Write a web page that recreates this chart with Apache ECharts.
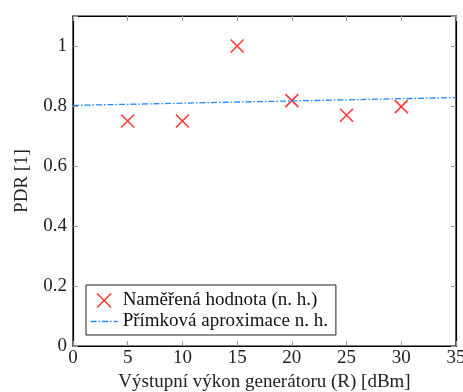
<!DOCTYPE html>
<html><head><meta charset="utf-8">
<script src="https://cdn.jsdelivr.net/npm/echarts@6/dist/echarts.min.js"></script>
<style>html,body{margin:0;padding:0;background:#fff}#c{width:463px;height:392px}</style>
</head><body><div id="c"></div>
<script>
const measuredX = [5, 10, 15, 20, 25, 30];
const measuredY = [0.75, 0.75, 1.0, 0.818, 0.769, 0.798];
const fitX = [0, 35];
const fitY = [0.802, 0.828];
const seriesNames = ['Naměřená hodnota (n. h.)', 'Přímková aproximace n. h.'];
const xTitle = 'Výstupní výkon generátoru (R) [dBm]';
const yTitle = 'PDR [1]';

const font = 'Liberation Serif';
const fs = 19;
const crossPath = 'path://M0,0L10,10M10,0L0,10';
const chart = echarts.init(document.getElementById('c'), null, {renderer: 'canvas'});
const tickStyle = {show: true, inside: true, length: 5, lineStyle: {color: '#999', width: 1}};
const lineCol = '#1a8cff';
const lineStyle = {color: lineCol, width: 1.3, type: [6, 2, 1.5, 2]};
chart.setOption({
  animation: false,
  textStyle: {fontFamily: font},
  grid: {left: 73, right: 7, top: 16, bottom: 46, containLabel: false, outerBoundsMode: 'none',
    show: true, borderColor: '#000', borderWidth: 1.2, backgroundColor: 'transparent'},
  legend: {
    left: 86, top: 285, orient: 'vertical', itemGap: 2,
    padding: [6, 8, 4, 4],
    borderColor: '#222', borderWidth: 1, backgroundColor: '#fff',
    itemWidth: 27, itemHeight: 14,
    textStyle: {fontFamily: font, fontSize: fs, color: '#111'},
    data: [
      {name: seriesNames[0], icon: crossPath, itemStyle: {color: 'red', borderColor: 'red', borderWidth: 1.5}},
      {name: seriesNames[1], itemStyle: {opacity: 0}, lineStyle: lineStyle}
    ]
  },
  xAxis: [{
    type: 'value', min: 0, max: 35, interval: 5,
    name: xTitle, nameLocation: 'middle', nameGap: 26,
    nameTextStyle: {fontFamily: font, fontSize: fs, color: '#222'},
    axisLine: {show: true, onZero: false, lineStyle: {color: '#000', width: 1.2}},
    axisTick: tickStyle,
    axisLabel: {fontFamily: font, fontSize: fs, color: '#222', margin: 3, hideOverlap: false},
    splitLine: {show: false}
  }, {
    type: 'value', min: 0, max: 35, interval: 5, position: 'top',
    axisLine: {show: true, onZero: false, lineStyle: {color: '#000', width: 1.2}},
    axisTick: tickStyle, axisLabel: {show: false}, splitLine: {show: false}
  }],
  yAxis: [{
    type: 'value', min: 0, max: 1.1, interval: 0.2,
    name: yTitle, nameLocation: 'middle', nameGap: 41,
    nameTextStyle: {fontFamily: font, fontSize: fs, color: '#222'},
    axisLine: {show: true, onZero: false, lineStyle: {color: '#000', width: 1.2}},
    axisTick: tickStyle,
    axisLabel: {fontFamily: font, fontSize: fs, color: '#222', margin: 6,
      formatter: v => (Math.abs(v - 1.1) < 1e-6 ? '' : String(Math.round(v*10)/10))},
    splitLine: {show: false}
  }, {
    type: 'value', min: 0, max: 1.1, interval: 0.2, position: 'right',
    axisLine: {show: true, onZero: false, lineStyle: {color: '#000', width: 1.2}},
    axisTick: tickStyle, axisLabel: {show: false}, splitLine: {show: false}
  }],
  series: [{
    name: seriesNames[0], type: 'scatter',
    data: measuredX.map((x, i) => [x, measuredY[i]]),
    symbol: crossPath, symbolSize: 13,
    itemStyle: {color: 'red', borderColor: 'red', borderWidth: 1.5}
  }, {
    name: seriesNames[1], type: 'line',
    data: fitX.map((x, i) => [x, fitY[i]]),
    showSymbol: false, symbol: 'none',
    lineStyle: lineStyle
  }, {
    name: 'mirror', type: 'scatter', xAxisIndex: 1, yAxisIndex: 1,
    data: [[0, 0]], symbolSize: 0, silent: true, itemStyle: {opacity: 0}
  }]
});
</script></body></html>
